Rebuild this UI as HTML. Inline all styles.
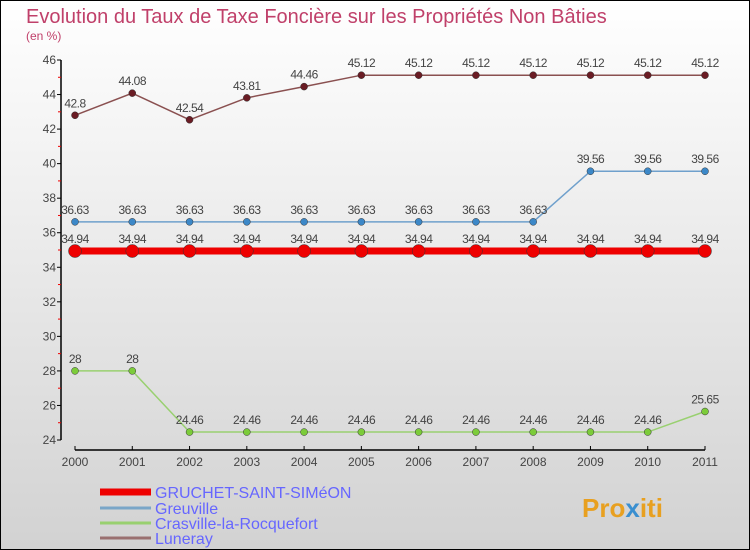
<!DOCTYPE html>
<html><head><meta charset="utf-8"><style>
body{margin:0;}
svg{display:block;font-family:"Liberation Sans",sans-serif;}
</style></head><body>
<svg id="c" width="750" height="550" xmlns="http://www.w3.org/2000/svg">
<defs><linearGradient id="bg" x1="0" y1="0" x2="0" y2="1"><stop offset="0" stop-color="#ffffff"/><stop offset="1" stop-color="#d2d2d2"/></linearGradient></defs>
<rect x="0.5" y="0.5" width="749" height="549" fill="url(#bg)" stroke="#000"/>
<text x="26" y="23" font-size="20" fill="#c0406a">Evolution du Taux de Taxe Foncière sur les Propriétés Non Bâties</text>
<text x="26" y="40" font-size="12" fill="#c0406a">(en %)</text>
<g id="axes"></g><g id="series"></g>
<g>
<line x1="100" y1="492" x2="151" y2="492" stroke="#e00" stroke-width="7"/>
<text x="155" y="498" font-size="16" fill="#6666ff">GRUCHET-SAINT-SIMéON</text>
<line x1="100" y1="508" x2="151" y2="508" stroke="#7aa6c8" stroke-width="3"/>
<text x="155" y="514" font-size="16" fill="#6666ff">Greuville</text>
<line x1="100" y1="523" x2="151" y2="523" stroke="#99d070" stroke-width="3"/>
<text x="155" y="529" font-size="16" fill="#6666ff">Crasville-la-Rocquefort</text>
<line x1="100" y1="538" x2="151" y2="538" stroke="#9a7070" stroke-width="3"/>
<text x="155" y="544" font-size="16" fill="#6666ff">Luneray</text>
</g>
<text x="582" y="517" font-size="26" font-weight="bold" fill="#e8a020">Pro<tspan fill="#3a8fd0">x</tspan><tspan fill="#e8a020">iti</tspan></text>
</svg>
<script>
const years=[2000,2001,2002,2003,2004,2005,2006,2007,2008,2009,2010,2011];
const gruchet=[34.94,34.94,34.94,34.94,34.94,34.94,34.94,34.94,34.94,34.94,34.94,34.94];
const greuville=[36.63,36.63,36.63,36.63,36.63,36.63,36.63,36.63,36.63,39.56,39.56,39.56];
const crasville=[28,28,24.46,24.46,24.46,24.46,24.46,24.46,24.46,24.46,24.46,25.65];
const luneray=[42.8,44.08,42.54,43.81,44.46,45.12,45.12,45.12,45.12,45.12,45.12,45.12];
const yTicks=[24,26,28,30,32,34,36,38,40,42,44,46];
const NS="http://www.w3.org/2000/svg";
const X=i=>75+i*(630/11);
const Y=v=>440-(v-24)*(380/22);
function mk(t,a,p){const e=document.createElementNS(NS,t);for(const k in a)e.setAttribute(k,a[k]);p.appendChild(e);return e;}
const ax=document.getElementById('axes');
const yl=mk('line',{x1:61,y1:60,x2:61,y2:440,stroke:'#000','stroke-width':1.5},ax);


yTicks.forEach(v=>{
 mk('line',{x1:57,y1:Y(v),x2:61,y2:Y(v),stroke:'#000'},ax);
 mk('line',{x1:58,y1:Y(v+1),x2:61,y2:Y(v+1),stroke:v<46?'#e00':'none'},ax);
 const t=mk('text',{x:56,y:Y(v)+4,'font-size':12,fill:'#444','text-anchor':'end'},ax);t.textContent=v;
 
 
});
const xl=mk('line',{x1:75,y1:450,x2:705,y2:450,stroke:'#000','stroke-width':1.5},ax);


years.forEach((y,i)=>{
 mk('line',{x1:X(i),y1:446,x2:X(i),y2:450,stroke:'#000'},ax);
 const t=mk('text',{x:X(i),y:466,'font-size':12,fill:'#444','text-anchor':'middle'},ax);t.textContent=y;
 
 
});
const sg=document.getElementById('series');
function series(vals,color,w,r,name,dot){
 const g=mk('g',{},sg);
 
 
 mk('polyline',{points:vals.map((v,i)=>X(i)+','+Y(v)).join(' '),fill:'none',stroke:color,'stroke-width':w},g);
 vals.forEach((v,i)=>{
  const c=mk('circle',{cx:X(i),cy:Y(v),r:r,fill:dot,stroke:'#333','stroke-width':0.5},g);
  
  
  const t=mk('text',{x:X(i),y:Y(v)-8,'font-size':12,fill:'#444','text-anchor':'middle','letter-spacing':'-0.5'},g);
  t.textContent=v;
  
  
 });
}
series(luneray,'#8a5050',1.5,3.5,'luneray-series','#6a1c24');
series(greuville,'#6fa0cc',1.5,3.5,'greuville-series','#3c88c8');
series(crasville,'#99d070',1.5,3.5,'crasville-series','#7ccc3a');
series(gruchet,'#e00',7,6.5,'gruchet-series','#e00');
</script>
</body></html>
